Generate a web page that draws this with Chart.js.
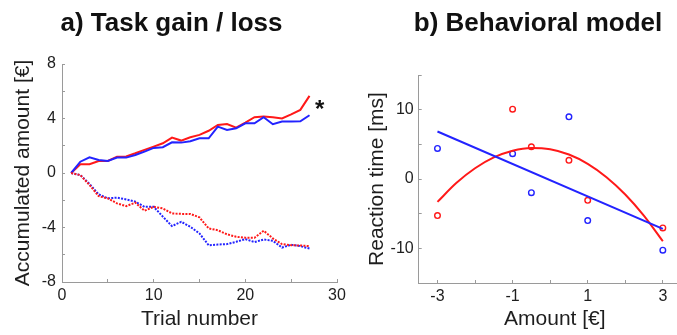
<!DOCTYPE html>
<html>
<head>
<meta charset="utf-8">
<script src="https://cdn.jsdelivr.net/npm/chart.js@4.4.1/dist/chart.umd.min.js"></script>
<style>
  html, body { margin: 0; padding: 0; background: #fff; width: 677px; height: 335px; overflow: hidden; }
  #wrap { position: relative; width: 677px; height: 335px; overflow: hidden; }
  .ttl { position: absolute; top: 7px; font: bold 26px 'Liberation Sans', Arial, sans-serif; line-height: 30px; color: #111; text-align: center; white-space: nowrap; }
  canvas { position: absolute; top: 0; }
</style>
</head>
<body>
<div id="wrap">
  <canvas id="cA" width="360" height="335" style="left:0px"></canvas>
  <canvas id="cB" width="360" height="335" style="left:340px"></canvas>
  <div class="ttl" style="left:0px;width:343px">a) Task gain / loss</div>
  <div class="ttl" style="left:338px;width:400px">b) Behavioral model</div>
</div>
<script>
// ---------- Panel a data ----------
const trials = [1,2,3,4,5,6,7,8,9,10,11,12,13,14,15,16,17,18,19,20,21,22,23,24,25,26,27];
const gainRed  = [0,0.64,0.64,0.88,0.88,1.2,1.22,1.45,1.7,1.94,2.18,2.6,2.38,2.62,2.8,3.1,3.53,3.6,3.33,3.7,4.1,4.14,4.1,4.0,4.3,4.63,5.66];
const gainBlue = [0,0.83,1.15,0.95,0.88,1.13,1.13,1.32,1.57,1.84,1.89,2.25,2.23,2.33,2.55,2.55,3.4,3.16,3.28,3.65,3.65,4.1,3.58,3.78,3.78,3.8,4.24];
const lossRed  = [0,-0.15,-0.88,-1.7,-1.86,-2.23,-2.43,-2.18,-2.77,-2.48,-2.6,-2.97,-3.0,-3.0,-3.26,-4.07,-4.2,-4.5,-4.68,-4.75,-4.75,-4.24,-4.8,-5.22,-5.3,-5.32,-5.37];
const lossBlue = [0,-0.15,-0.8,-1.57,-1.86,-1.81,-1.94,-2.1,-2.48,-2.48,-3.2,-3.9,-3.58,-3.95,-4.44,-5.3,-5.25,-5.22,-5.05,-4.85,-5.07,-4.88,-4.98,-5.47,-5.27,-5.37,-5.54];
const yTicksA = [-8,-4,0,4,8];
const xTicksA = [0,10,20,30];
const starNote = { text: '*', x: 28.1, y: 5.0 };

// ---------- Panel b data ----------
const amounts = [-3,-1,-0.5,0.5,1,3];
const rtRed  = [-5.28,10.07,4.65,2.69,-3.07,-7.05];
const rtBlue = [4.41,3.65,-1.97,8.97,-6.0,-10.26];
const lineX = [-3,3];
const lineBlue = [6.85,-7.2];
const curveX = [-3,-2.5,-2,-1.5,-1,-0.5,0,0.5,1,1.5,2,2.5,3];
const curveRed = [-3.3,-0.58,1.55,3.11,4.08,4.48,4.29,3.53,2.19,0.26,-2.24,-5.32,-8.98];
const yTicksB = [-10,0,10];
const xTicksB = [-3,-1,1,3];

const RED = 'rgb(255,25,25)';
const BLUE = 'rgb(35,35,255)';
const FONT = "'Liberation Sans', Arial, sans-serif";
const TXT = '#1e1e1e';
const AX = '#9a9a9a';

const pts = (xs, ys) => xs.map((x, i) => ({ x: x, y: ys[i] }));

const starPlugin = {
  id: 'starNote',
  afterDatasetsDraw(chart) {
    const { ctx, scales } = chart;
    ctx.save();
    ctx.font = 'bold 24px ' + FONT;
    ctx.fillStyle = '#111';
    ctx.textAlign = 'center';
    ctx.textBaseline = 'middle';
    ctx.fillText(starNote.text, scales.x.getPixelForValue(starNote.x), scales.y.getPixelForValue(starNote.y) + 5);
    ctx.restore();
  }
};

function axisCommon(list, titleText, fixedSize, isY, tickPad, titlePad) {
  return {
    type: 'linear',
    grid: { display: true, drawOnChartArea: false, drawTicks: true, tickLength: -3, color: AX, tickColor: AX, lineWidth: 1 },
    border: { display: true, color: AX, width: 1 },
    ticks: {
      color: TXT, font: { family: FONT, size: 16 }, padding: tickPad, includeBounds: false, maxRotation: 0, autoSkip: false,
      callback: (v) => list.includes(v) ? String(v) : ''
    },
    title: { display: true, text: titleText, color: TXT, font: { family: FONT, size: 21 }, padding: titlePad },
    afterFit: (s) => { if (isY) s.width = fixedSize; else s.height = fixedSize; }
  };
}

// ---------- Chart A ----------
const sxA = axisCommon(xTicksA, 'Trial number', 53, false, 7, { top: 0, bottom: 3 });
sxA.min = 0; sxA.max = 30; sxA.ticks.stepSize = 5;
const syA = axisCommon(yTicksA, 'Accumulated amount [€]', 56, true, 9, { top: 5, bottom: 0 });
syA.min = -8; syA.max = 8; syA.ticks.stepSize = 2;

new Chart(document.getElementById('cA'), {
  type: 'line',
  data: {
    datasets: [
      { data: pts(trials, lossRed), borderColor: RED, borderWidth: 2, borderDash: [2, 1.3], pointRadius: 0, tension: 0 },
      { data: pts(trials, lossBlue), borderColor: BLUE, borderWidth: 2, borderDash: [2, 1.3], pointRadius: 0, tension: 0 },
      { data: pts(trials, gainBlue), borderColor: BLUE, borderWidth: 2, pointRadius: 0, tension: 0 },
      { data: pts(trials, gainRed), borderColor: RED, borderWidth: 2, pointRadius: 0, tension: 0 }
    ]
  },
  options: {
    responsive: false, animation: false,
    layout: { padding: { left: 6, top: 64, right: 23, bottom: 0 } },
    plugins: { legend: { display: false }, tooltip: { enabled: false } },
    scales: { x: sxA, y: syA }
  },
  plugins: [starPlugin]
});

// ---------- Chart B ----------
const sxB = axisCommon(xTicksB, 'Amount [€]', 52, false, 7, { top: 0, bottom: 3 });
sxB.min = -3.5; sxB.max = 3.75; sxB.ticks.stepSize = 1;
const syB = axisCommon(yTicksB, 'Reaction time [ms]', 58.7, true, 8, { top: 5, bottom: 0 });
syB.min = -15; syB.max = 15; syB.ticks.stepSize = 5;

new Chart(document.getElementById('cB'), {
  type: 'scatter',
  data: {
    datasets: [
      { type: 'line', data: pts(lineX, lineBlue), borderColor: BLUE, borderWidth: 2, pointRadius: 0, fill: false },
      { type: 'line', data: pts(curveX, curveRed), borderColor: RED, borderWidth: 2, pointRadius: 0, fill: false, cubicInterpolationMode: 'monotone' },
      { data: pts(amounts, rtRed), borderColor: RED, backgroundColor: 'rgba(0,0,0,0)', pointRadius: 2.8, borderWidth: 1.4, pointStyle: 'circle' },
      { data: pts(amounts, rtBlue), borderColor: BLUE, backgroundColor: 'rgba(0,0,0,0)', pointRadius: 2.8, borderWidth: 1.4, pointStyle: 'circle' }
    ]
  },
  options: {
    responsive: false, animation: false,
    layout: { padding: { left: 20, top: 75, right: 9, bottom: 0 } },
    plugins: { legend: { display: false }, tooltip: { enabled: false } },
    scales: { x: sxB, y: syB }
  }
});
</script>
</body>
</html>
